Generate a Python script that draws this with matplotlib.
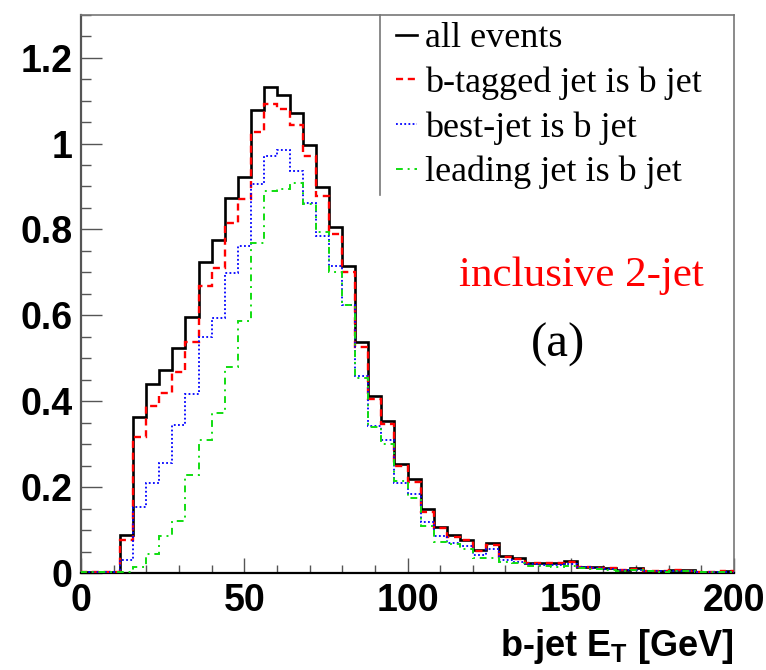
import numpy as np
import matplotlib
matplotlib.use('Agg')
import matplotlib.pyplot as plt
from matplotlib.ticker import MultipleLocator, FormatStrFormatter
from matplotlib.lines import Line2D

# b-jet E_T histograms, 4 GeV bins from 0 to 200 GeV
edges = np.arange(0, 204, 4)

all_events = [0.002, 0.002, 0.003, 0.088, 0.364, 0.440, 0.472, 0.525, 0.595, 0.724,
              0.775, 0.873, 0.922, 1.078, 1.132, 1.114, 1.070, 0.996, 0.899, 0.806,
              0.715, 0.539, 0.412, 0.355, 0.253, 0.218, 0.149, 0.108, 0.088, 0.078,
              0.054, 0.069, 0.040, 0.035, 0.024, 0.024, 0.024, 0.027, 0.015, 0.013,
              0.011, 0.006, 0.011, 0.005, 0.004, 0.007, 0.006, 0.002, 0.002, 0.004]
btag_is_b = [0.002, 0.002, 0.003, 0.078, 0.317, 0.389, 0.420, 0.469, 0.538, 0.668,
             0.711, 0.814, 0.870, 1.026, 1.091, 1.081, 1.044, 0.971, 0.877, 0.790,
             0.701, 0.527, 0.404, 0.348, 0.249, 0.213, 0.143, 0.105, 0.083, 0.076,
             0.052, 0.065, 0.038, 0.033, 0.023, 0.023, 0.023, 0.026, 0.014, 0.012,
             0.011, 0.006, 0.010, 0.005, 0.004, 0.006, 0.005, 0.002, 0.002, 0.004]
best_is_b = [0.002, 0.002, 0.003, 0.030, 0.154, 0.210, 0.255, 0.344, 0.416, 0.550,
             0.593, 0.699, 0.761, 0.906, 0.972, 0.984, 0.935, 0.861, 0.784, 0.716,
             0.625, 0.458, 0.343, 0.310, 0.209, 0.185, 0.119, 0.086, 0.071, 0.063,
             0.042, 0.057, 0.030, 0.026, 0.020, 0.018, 0.018, 0.020, 0.013, 0.011,
             0.009, 0.006, 0.008, 0.004, 0.004, 0.005, 0.004, 0.002, 0.002, 0.003]
lead_is_b = [0.002, 0.002, 0.002, 0.003, 0.014, 0.044, 0.085, 0.122, 0.229, 0.310,
             0.372, 0.480, 0.587, 0.769, 0.890, 0.893, 0.907, 0.860, 0.795, 0.700,
             0.624, 0.453, 0.340, 0.300, 0.214, 0.174, 0.109, 0.073, 0.067, 0.057,
             0.036, 0.035, 0.026, 0.023, 0.017, 0.016, 0.015, 0.016, 0.011, 0.009,
             0.007, 0.004, 0.007, 0.004, 0.003, 0.005, 0.004, 0.002, 0.002, 0.003]

labels = ['all events', 'b-tagged jet is b jet', 'best-jet is b jet', 'leading jet is b jet']

plt.rcParams['mathtext.fontset'] = 'custom'
plt.rcParams['mathtext.rm'] = 'Liberation Sans:bold'
plt.rcParams['mathtext.it'] = 'Liberation Sans:bold'
plt.rcParams['mathtext.bf'] = 'Liberation Sans:bold'

fig = plt.figure(figsize=(7.66, 6.70), dpi=100)
ax = fig.add_axes([81/766, 1-573/670, 653/766, 558.3/670])

ax.stairs(all_events, edges, color='black', lw=1.9, ls='-', label=labels[0], zorder=2)
ax.stairs(btag_is_b, edges, color='red', lw=1.7, ls=(0, (3, 2)), label=labels[1], zorder=3)
ax.stairs(best_is_b, edges, color='blue', lw=1.3, ls=(0, (1, 1.3)), label=labels[2], zorder=4)
ax.stairs(lead_is_b, edges, color='#11dd11', lw=1.4, ls=(0, (3.5, 2.5, 1, 2.5)), label=labels[3], zorder=5)

ax.set_xlim(0, 200)
ax.set_ylim(0, 1.3)
ax.xaxis.set_major_locator(MultipleLocator(50))
ax.xaxis.set_minor_locator(MultipleLocator(10))
ax.yaxis.set_major_locator(MultipleLocator(0.2))
ax.yaxis.set_minor_locator(MultipleLocator(0.05))
ax.yaxis.set_major_formatter(FormatStrFormatter('%g'))
ax.tick_params(which='both', direction='in', top=False, right=False, colors='#555555',
               labelcolor='black')
ax.tick_params(axis='y', which='major', length=15, width=1.0, pad=6)
ax.tick_params(axis='y', which='minor', length=7.5, width=1.0)
ax.tick_params(axis='x', which='major', length=11, width=1.0, pad=7)
ax.tick_params(axis='x', which='minor', length=5.5, width=1.0)
for lab in ax.get_xticklabels() + ax.get_yticklabels():
    lab.set_fontfamily('Liberation Sans')
    lab.set_fontweight('bold')
    lab.set_fontsize(27)

ax.spines['left'].set_color('#555555')
ax.spines['left'].set_linewidth(1.6)
ax.spines['bottom'].set_color('black')
ax.spines['bottom'].set_linewidth(1.6)
ax.spines['top'].set_color('#777777')
ax.spines['top'].set_linewidth(1.2)
ax.spines['right'].set_color('#777777')
ax.spines['right'].set_linewidth(1.2)

ax.set_xlabel(r'b-jet E$_{\mathrm{T}}$ [GeV]', loc='right', fontfamily='Liberation Sans',
              fontweight='bold', fontsize=26, labelpad=6)

leg = ax.legend(loc='upper left', bbox_to_anchor=(0.471, 1.0), frameon=False,
                prop={'family': 'Liberation Serif', 'size': 26},
                handlelength=0.6, handletextpad=0.2, borderpad=0.2,
                labelspacing=0.31, borderaxespad=0)
# left border of the legend box
ax.add_line(Line2D([0.458, 0.458], [1.0, 0.677], transform=ax.transAxes,
                   color='#777777', lw=1.2, clip_on=False))

ax.text(0.766, 0.514, 'inclusive 2-jet', transform=ax.transAxes, color='red',
        fontfamily='Liberation Serif', fontsize=31, ha='center', va='baseline')
ax.text(0.730, 0.387, '(a)', transform=ax.transAxes, color='black',
        fontfamily='Liberation Serif', fontsize=35, ha='center', va='baseline')

fig.savefig('out.png', dpi=100)
